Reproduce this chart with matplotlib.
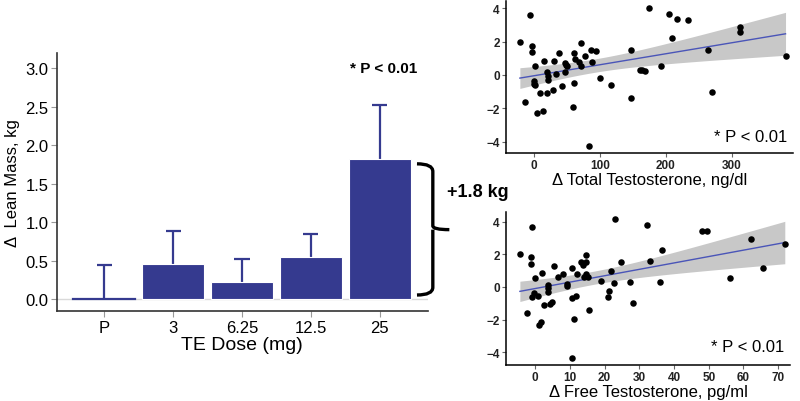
import matplotlib
matplotlib.use("Agg")
import matplotlib.pyplot as plt
from matplotlib.path import Path
from matplotlib.patches import PathPatch
import numpy as np

plt.rcParams['font.family'] = ['Liberation Sans', 'DejaVu Sans']

# bar chart data
doses = ["P", "3", "6.25", "12.5", "25"]
leanMass = [0.01, 0.46, 0.22, 0.55, 1.82]
leanErr = [0.43, 0.43, 0.31, 0.30, 0.71]

# change in total testosterone vs change in lean mass
totalT = [-21, -5, -3, -3, -13, 2, 0, 0, 2, 5, 10, 14, 15, 20, 20, 21, 22, 30, 29,
          34, 38, 42, 47, 48, 49, 50, 60, 61, 61, 63, 68, 71, 72, 78, 87, 88, 94,
          84, 101, 117, 147, 147, 161, 164, 168, 174, 192, 204, 209, 217, 234,
          264, 269, 312, 312, 381]
totalLM = [2.0, 3.6, 1.76, 1.4, -1.6, 0.56, -0.34, -0.54, -0.6, -2.3, -1.08, -2.14,
           0.82, -1.08, 0.16, -0.08, -0.28, 0.82, -0.88, 0.06, 1.3, -0.68, 0.16,
           0.72, 0.6, 0.56, -1.94, -0.48, 1.3, 0.96, 0.8, 0.56, 1.92, 1.16, 1.52,
           0.76, 1.46, -4.24, -0.2, -0.6, 1.52, -1.36, 0.32, 0.28, 0.24, 4.04,
           0.52, 3.68, 2.2, 3.36, 3.32, 1.52, -1.0, 2.9, 2.56, 1.16]

# change in free testosterone vs change in lean mass
freeT = [-4.4, -1.0, -1.3, -1.3, -2.3, 0, -0.4, -1.0, 0.8, 1.2, 1.7, 2.1, 2.5, 3.8,
         3.8, 3.8, 4.4, 4.8, 5.4, 6.7, 7.9, 9.2, 9.2, 10.5, 10.5, 10.7, 11.1, 11.7,
         12.1, 13.2, 13.8, 14.2, 14.6, 14.6, 14.6, 15.1, 15.5, 19.0, 20.9, 21.3,
         21.9, 22.8, 23.0, 24.7, 27.2, 28.2, 32.2, 33.0, 36.0, 36.6, 48.1, 49.5,
         56.2, 62.1, 65.6, 71.9]
freeLM = [2.0, 3.7, 1.86, 1.41, -1.61, 0.55, -0.37, -0.59, -0.53, -2.33, -2.16,
          0.84, -1.08, 0.12, -0.08, -0.33, -1.06, -0.9, 1.31, 0.61, 0.78, 0.16,
          0.04, 1.14, -0.67, -4.37, -1.98, -0.53, 0.78, 1.51, 1.35, 0.61, 1.51,
          1.98, 0.78, 0.61, -1.41, 0.35, -0.61, -0.24, 0.98, 0.24, 4.16, 1.51,
          0.29, -1.0, 3.8, 1.57, 0.29, 2.27, 3.43, 3.43, 0.55, 2.94, 1.18, 2.61]

barColor = '#353a8f'

fig = plt.figure(figsize=(8, 4.02), dpi=100)

# ---- bar chart ----
ax = fig.add_axes([0.0709, 0.2231, 0.4641, 0.6426])
pos = np.arange(len(doses))
tops = np.asarray(leanMass) + np.asarray(leanErr)
ax.axhline(0, color='#d9d9d9', lw=1, zorder=0)
ax.vlines(pos, leanMass, tops, color=barColor, lw=1.6, zorder=1)
ax.hlines(tops, pos - 0.11, pos + 0.11, color=barColor, lw=1.6, zorder=1)
ax.bar(pos, leanMass, width=0.9, color=barColor, edgecolor='white', lw=0.8, zorder=2)
ax.plot([pos[0] - 0.45, pos[0] + 0.45], [0.01, 0.01], color=barColor, lw=1.6, zorder=3)
ax.set_xlim(-0.69, 4.7)
ax.set_ylim(-0.156, 3.2)
ax.set_yticks([0.0, 0.5, 1.0, 1.5, 2.0, 2.5, 3.0])
ax.set_yticklabels(["%.1f" % v for v in [0.0, 0.5, 1.0, 1.5, 2.0, 2.5, 3.0]])
ax.set_xticks(pos)
ax.set_xticklabels(doses)
ax.tick_params(labelsize=12, color='#999999', length=4, pad=2)
for s in ['top', 'right']:
    ax.spines[s].set_visible(False)
for s in ['left', 'bottom']:
    ax.spines[s].set_linewidth(1.2)
    ax.spines[s].set_color('#333333')
ax.set_xlabel("TE Dose (mg)", fontsize=14, labelpad=1)
ax.set_ylabel("\u0394  Lean Mass, kg", fontsize=12, labelpad=4)
ax.text(4.05, 3.0, "* P < 0.01", fontsize=11, fontweight='bold', ha='center', va='center')

# curly brace from 0 to top of last bar
top, bot, mid = 1.76, 0.056, 0.905
x0, x1, x2 = 4.54, 4.77, 5.01
verts = [(x0, top), (x1, top), (x1, top - 0.1),
         (x1, mid + 0.05),
         (x1, mid), (x2, mid),
         (x1, mid), (x1, mid - 0.05),
         (x1, bot + 0.1),
         (x1, bot), (x0, bot)]
codes = [Path.MOVETO, Path.CURVE3, Path.CURVE3, Path.LINETO,
         Path.CURVE3, Path.CURVE3, Path.MOVETO, Path.CURVE3,
         Path.LINETO, Path.CURVE3, Path.CURVE3]
ax.add_patch(PathPatch(Path(verts, codes), fill=False, lw=2.4, color='black', clip_on=False))
ax.text(4.97, 1.4, "+1.8 kg", fontsize=13, fontweight='bold', ha='left', va='center')


def scatterPanel(rect, xs, ys, xlim, ylim, xticks, xlabel, py):
    sax = fig.add_axes(rect)
    xs = np.asarray(xs, float)
    ys = np.asarray(ys, float)
    n = len(xs)
    slope, inter = np.polyfit(xs, ys, 1)
    gx = np.linspace(xs.min(), xs.max(), 100)
    gy = inter + slope * gx
    resid = ys - (inter + slope * xs)
    sErr = np.sqrt(np.sum(resid ** 2) / (n - 2))
    se = sErr * np.sqrt(1.0 / n + (gx - xs.mean()) ** 2 / np.sum((xs - xs.mean()) ** 2))
    sax.fill_between(gx, gy - 2.0 * se, gy + 2.0 * se, color='#c8c8c8', lw=0, zorder=1)
    sax.plot(gx, gy, color='#4a55b8', lw=1.0, zorder=2)
    sax.scatter(xs, ys, s=22, color='black', zorder=3, lw=0)
    sax.set_xlim(xlim)
    sax.set_ylim(ylim)
    sax.set_xticks(xticks)
    sax.set_yticks([-4, -2, 0, 2, 4])
    sax.tick_params(labelsize=8.5, color='#666666', length=3, pad=1.5)
    for lab in sax.get_xticklabels() + sax.get_yticklabels():
        lab.set_fontweight('bold')
        lab.set_color('#222222')
    for s in ['top', 'right']:
        sax.spines[s].set_visible(False)
    for s in ['left', 'bottom']:
        sax.spines[s].set_linewidth(1.1)
    sax.set_xlabel(xlabel, fontsize=12, labelpad=0.5)
    sax.text(0.98, py, "* P < 0.01", transform=sax.transAxes, fontsize=12,
             ha='right', va='center')
    return sax


scatterPanel([0.6325, 0.617, 0.3585, 0.378], totalT, totalLM, (-42, 392), (-4.68, 4.44),
             [0, 100, 200, 300], "\u0394 Total Testosterone, ng/dl", 0.11)
scatterPanel([0.6325, 0.0896, 0.355, 0.3804], freeT, freeLM, (-8.4, 73.4), (-4.78, 4.59),
             [0, 10, 20, 30, 40, 50, 60, 70], "\u0394 Free Testosterone, pg/ml", 0.12)

fig.savefig("out.png", dpi=100)
